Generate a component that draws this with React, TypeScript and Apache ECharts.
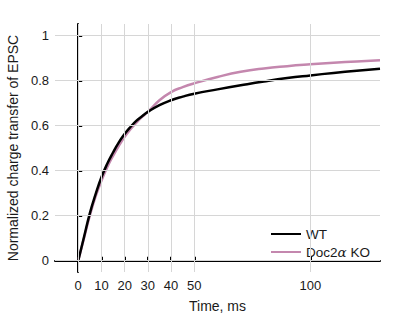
import React, { useEffect, useRef } from "react";
import * as echarts from "echarts";

const time = [0, 2.5, 5, 7.5, 10, 12.5, 15, 17.5, 20, 22.5, 25, 27.5, 30, 35, 40, 45, 50, 60, 70, 80, 90, 100, 110, 120, 130];
const wt = [0, 0.105, 0.21, 0.295, 0.37, 0.43, 0.48, 0.525, 0.562, 0.593, 0.62, 0.641, 0.66, 0.69, 0.712, 0.728, 0.741, 0.76, 0.778, 0.795, 0.81, 0.822, 0.833, 0.843, 0.852];
const ko = [0, 0.1, 0.2, 0.285, 0.355, 0.415, 0.465, 0.51, 0.55, 0.583, 0.612, 0.638, 0.66, 0.712, 0.748, 0.77, 0.787, 0.815, 0.838, 0.853, 0.863, 0.871, 0.878, 0.884, 0.889];
const xTicks = [0, 10, 20, 30, 40, 50, 100];
const yTicks = [0, 0.2, 0.4, 0.6, 0.8, 1];
const seriesNames = ["WT", "Doc2α KO"];

export default function App() {
  const ref = useRef<HTMLDivElement>(null);
  useEffect(() => {
    if (!ref.current) return;
    const chart = echarts.init(ref.current, null, { renderer: "svg" });
    const font = "Liberation Sans, Arial, sans-serif";
    const textColor = "#1a1a1a";
    chart.setOption({
      animation: false,
      textStyle: { fontFamily: font },
      grid: { left: 55, right: 40, top: 24, bottom: 43, containLabel: false, outerBoundsMode: "none" },
      legend: {
        orient: "vertical",
        left: 266,
        top: 222,
        itemWidth: 30,
        itemHeight: 2,
        itemGap: 4,
        icon: "rect",
        textStyle: {
          fontFamily: font,
          fontSize: 13.5,
          color: textColor,
          rich: {
            a: { fontFamily: "DejaVu Serif, serif", fontStyle: "italic", fontSize: 13.5, color: textColor },
          },
        },
        formatter: (name: string) => name.replace("α", "{a|α}"),
        data: seriesNames,
      },
      xAxis: {
        type: "value",
        min: -10,
        max: 130,
        name: "Time, ms",
        nameLocation: "middle",
        nameGap: 27,
        nameTextStyle: { fontSize: 14, color: textColor, fontFamily: font },
        axisLine: { show: true, lineStyle: { color: "#000", width: 2 } },
        axisTick: { show: true, inside: true, length: 4, customValues: xTicks, lineStyle: { color: "#000", width: 2 } },
        axisLabel: { customValues: xTicks, fontSize: 13, color: textColor, margin: 7, fontFamily: font },
        splitLine: { show: false },
      },
      yAxis: {
        type: "value",
        min: -0.05,
        max: 1.05,
        name: "Normalized charge transfer of EPSC",
        nameLocation: "middle",
        nameGap: 29,
        nameTextStyle: { fontSize: 14, color: textColor, fontFamily: font },
        axisLine: { show: true, lineStyle: { color: "#000", width: 2 } },
        axisTick: { show: true, inside: true, length: 4, customValues: yTicks, lineStyle: { color: "#000", width: 2 } },
        axisLabel: {
          customValues: yTicks,
          fontSize: 13,
          color: textColor,
          margin: 6,
          fontFamily: font,
          formatter: (v: number) => String(Math.round(v * 10) / 10),
        },
        splitLine: { show: false },
      },
      series: [
        {
          name: "grid",
          type: "line",
          data: [[0, 0]],
          showSymbol: false,
          symbol: "none",
          lineStyle: { opacity: 0 },
          silent: true,
          z: 1,
          markLine: {
            silent: true,
            symbol: ["none", "none"],
            label: { show: false },
            lineStyle: { color: "#d6d6d6", width: 1, type: "solid" },
            data: [...xTicks.map((v) => ({ xAxis: v })), ...yTicks.map((v) => ({ yAxis: v }))],
          },
        },
        {
          name: seriesNames[0],
          type: "line",
          data: time.map((t, i) => [t, wt[i]]),
          smooth: true,
          showSymbol: false,
          symbol: "none",
          color: "#000000",
          lineStyle: { color: "#000000", width: 2.5 },
          z: 4,
        },
        {
          name: seriesNames[1],
          type: "line",
          data: time.map((t, i) => [t, ko[i]]),
          smooth: true,
          showSymbol: false,
          symbol: "none",
          color: "#c487ae",
          lineStyle: { color: "#c487ae", width: 2.5 },
          z: 3,
        },
      ],
    });
    return () => chart.dispose();
  }, []);
  return <div ref={ref} style={{ width: 420, height: 315, position: "absolute", left: 0, top: 0 }} />;
}
